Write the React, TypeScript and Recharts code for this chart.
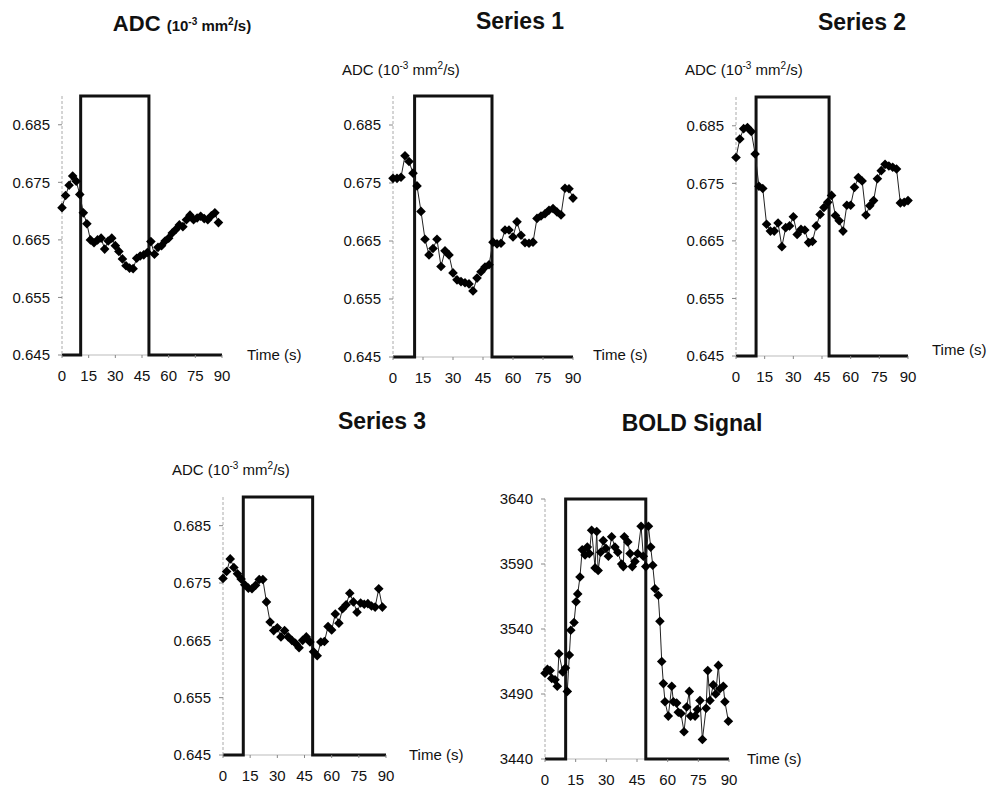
import React from 'react';
import { ComposedChart, Line, XAxis, YAxis } from 'recharts';

// time points (s) for the ADC series
const adcTimes = [0, 2, 4, 6, 8, 10, 12, 14, 16, 18, 20, 22, 24, 26, 28, 30, 32, 34, 36, 38, 40, 42, 44, 46, 48, 50, 52, 54, 56, 58, 60, 62, 64, 66, 68, 70, 72, 74, 76, 78, 80, 82, 84, 86, 88, 90];

const adcMean = [0.6706, 0.6727, 0.6745, 0.6761, 0.6752, 0.6729, 0.6697, 0.6678, 0.665, 0.6645, 0.665, 0.6653, 0.6634, 0.6648, 0.6653, 0.664, 0.663, 0.6617, 0.6605, 0.6601, 0.66, 0.6618, 0.6622, 0.6624, 0.6628, 0.6647, 0.6625, 0.6637, 0.664, 0.6648, 0.6653, 0.6662, 0.6668, 0.6676, 0.6673, 0.6685, 0.6693, 0.6685, 0.6688, 0.6691, 0.6687, 0.6685, 0.6692, 0.6697, 0.668];

const series1 = [0.6758, 0.6758, 0.676, 0.6797, 0.6787, 0.6767, 0.6745, 0.6701, 0.6653, 0.6626, 0.6637, 0.6653, 0.6606, 0.6633, 0.6626, 0.6595, 0.6583, 0.658, 0.6578, 0.6576, 0.6564, 0.6586, 0.6597, 0.6605, 0.6609, 0.6648, 0.6645, 0.6646, 0.6669, 0.6669, 0.6657, 0.6683, 0.666, 0.6647, 0.6646, 0.6648, 0.6689, 0.6693, 0.6697, 0.6703, 0.6706, 0.67, 0.6695, 0.6741, 0.674, 0.6724];

const series2 = [0.6795, 0.6827, 0.6845, 0.6847, 0.684, 0.6801, 0.6745, 0.6741, 0.6679, 0.6667, 0.6667, 0.6681, 0.664, 0.6673, 0.6676, 0.6692, 0.6661, 0.667, 0.6669, 0.6647, 0.6649, 0.6676, 0.6696, 0.6708, 0.6717, 0.6729, 0.6694, 0.6685, 0.6667, 0.6712, 0.6712, 0.6743, 0.676, 0.6754, 0.6695, 0.6711, 0.672, 0.6758, 0.6772, 0.6783, 0.678, 0.6778, 0.6775, 0.6716, 0.6717, 0.672];

const series3 = [0.6758, 0.677, 0.6792, 0.6777, 0.6766, 0.6757, 0.6747, 0.6741, 0.674, 0.6746, 0.6756, 0.6756, 0.6717, 0.6682, 0.6667, 0.6672, 0.6656, 0.6667, 0.6656, 0.665, 0.6645, 0.6637, 0.665, 0.6656, 0.6647, 0.663, 0.6623, 0.6647, 0.6648, 0.6674, 0.6668, 0.6696, 0.668, 0.6705, 0.6712, 0.6732, 0.6717, 0.6699, 0.6715, 0.6713, 0.6714, 0.671, 0.6708, 0.674, 0.6708];

const boldTimes = [0, 1.2, 2.5, 3.3, 4.9, 6, 6.8, 8.7, 10, 10.9, 11.9, 12.6, 14.2, 15.2, 16, 17.1, 18.2, 19.6, 20.7, 21.7, 22.8, 24.5, 25.3, 26, 27.2, 28.5, 29.8, 31, 32.6, 34.2, 35.6, 37.5, 38.3, 38.8, 40.5, 41.6, 42.7, 44, 45.3, 47, 48.1, 49.3, 50.6, 51.7, 52.7, 53.8, 55.4, 56.2, 57.1, 57.9, 58.7, 60.3, 62, 62.8, 64.4, 65.2, 66.5, 68, 69.3, 70.6, 71.2, 73.4, 74.5, 75.8, 77, 78.8, 79.6, 80.7, 82.3, 83.5, 84.8, 85.6, 87.2, 88, 89.7];

const boldSignal = [3506, 3509, 3508, 3502, 3501, 3496, 3521, 3507, 3510, 3492, 3520, 3539, 3545, 3561, 3567, 3580, 3601, 3597, 3603, 3598, 3616, 3587, 3615, 3585, 3599, 3608, 3602, 3596, 3611, 3603, 3599, 3590, 3588, 3611, 3607, 3598, 3588, 3592, 3598, 3619, 3596, 3588, 3619, 3603, 3589, 3571, 3566, 3546, 3515, 3498, 3484, 3473, 3496, 3484, 3483, 3476, 3475, 3461, 3480, 3492, 3473, 3473, 3478, 3485, 3455, 3479, 3508, 3485, 3497, 3490, 3512, 3494, 3496, 3484, 3469];

const timeTicks = [0, 15, 30, 45, 60, 75, 90];
const adcTicks = [0.645, 0.655, 0.665, 0.675, 0.685];
const boldTicks = [3440, 3490, 3540, 3590, 3640];
const adcDomain = [0.645, 0.69];
const boldDomain = [3440, 3640];
// stimulus on/off (s) per panel
const stimOn = [10.5, 10.8, 10.5, 11.2, 10.1];
const stimOff = [48.9, 49.5, 48.7, 49.5, 49.3];

const FONT = '"Liberation Sans", Arial, sans-serif';
const YW = 60;
const TOP = 10;
const RIGHT = 10;
const XH = 40;

const Diamond = (props: any) => {
  const { cx, cy, index } = props;
  if (cx == null || cy == null) return <g key={index} />;
  const r = 4.8;
  return <path key={index} d={`M${cx},${cy - r}L${cx + r},${cy}L${cx},${cy + r}L${cx - r},${cy}Z`} fill="#000" />;
};

type PanelProps = {
  left: number; top: number; w: number; h: number;
  times: number[]; values: number[]; domain: number[]; ticks: number[];
  on: number; off: number; fmt: (v: number) => string;
};

const Panel = ({ left, top, w, h, times, values, domain, ticks, on, off, fmt }: PanelProps) => {
  const rows = values.map((v, i) => ({ t: times[i], v }));
  const base = [{ t: 0, b: domain[0] }, { t: 90, b: domain[0] }];
  const box = [
    { t: 0, b: domain[0] }, { t: on, b: domain[0] }, { t: on, b: domain[1] },
    { t: off, b: domain[1] }, { t: off, b: domain[0] }, { t: 90, b: domain[0] },
  ];
  return (
    <div style={{ position: 'absolute', left: left - YW, top: top - TOP }}>
      <ComposedChart width={w + YW + RIGHT} height={h + TOP + XH} data={rows}
        margin={{ top: TOP, right: RIGHT, left: 0, bottom: 0 }}>
        <XAxis dataKey="t" type="number" domain={[0, 90]} ticks={timeTicks} height={XH}
          axisLine={false} tickLine={{ stroke: '#888' }} tickSize={3} tickMargin={12}
          tick={{ fill: '#111', fontSize: 15, fontFamily: FONT }} interval={0} />
        <YAxis type="number" domain={domain} ticks={ticks} width={YW} tickFormatter={fmt}
          axisLine={{ stroke: '#aaa', strokeDasharray: '3 2' }} tickLine={{ stroke: '#888' }} tickSize={4} tickMargin={8}
          tick={{ fill: '#111', fontSize: 15, fontFamily: FONT }} interval={0} />
        <Line data={base} dataKey="b" type="linear" stroke="#bbb" strokeWidth={1} dot={false} activeDot={false} isAnimationActive={false} />
        <Line data={box} dataKey="b" type="linear" stroke="#111" strokeWidth={3} dot={false} activeDot={false} isAnimationActive={false} />
        <Line dataKey="v" type="linear" stroke="#222" strokeWidth={1} dot={Diamond} activeDot={false} isAnimationActive={false} />
      </ComposedChart>
    </div>
  );
};

const txt = (extra: React.CSSProperties): React.CSSProperties => ({
  position: 'absolute', fontFamily: FONT, color: '#111', lineHeight: 1, whiteSpace: 'nowrap', ...extra,
});

const Units = ({ left, top }: { left: number; top: number }) => (
  <div style={txt({ left, top, fontSize: 15 })}>
    ADC (10<sup style={{ fontSize: 10 }}>-3</sup> mm<sup style={{ fontSize: 10 }}>2</sup>/s)
  </div>
);

const fmtAdc = (v: number) => v.toFixed(3);
const fmtBold = (v: number) => String(Math.round(v));

export default function App() {
  return (
    <div style={{ position: 'absolute', left: 0, top: 0, width: 994, height: 788, background: '#fff', overflow: 'hidden' }}>
      <div style={txt({ left: 182, top: 13, fontSize: 22, fontWeight: 'bold', transform: 'translateX(-50%)' })}>
        ADC <span style={{ fontSize: 15 }}>(10<sup style={{ fontSize: 10 }}>-3</sup> mm<sup style={{ fontSize: 10 }}>2</sup>/s)</span>
      </div>
      <div style={txt({ left: 520, top: 10, fontSize: 23, fontWeight: 'bold', transform: 'translateX(-50%)' })}>Series 1</div>
      <div style={txt({ left: 862, top: 11, fontSize: 23, fontWeight: 'bold', transform: 'translateX(-50%)' })}>Series 2</div>
      <div style={txt({ left: 382, top: 410, fontSize: 23, fontWeight: 'bold', transform: 'translateX(-50%)' })}>Series 3</div>
      <div style={txt({ left: 692, top: 412, fontSize: 23, fontWeight: 'bold', transform: 'translateX(-50%)' })}>BOLD Signal</div>

      <Units left={342} top={61} />
      <Units left={685} top={61} />
      <Units left={172} top={461} />

      <Panel left={62} top={96} w={160} h={259} times={adcTimes} values={adcMean} domain={adcDomain} ticks={adcTicks} on={stimOn[0]} off={stimOff[0]} fmt={fmtAdc} />
      <Panel left={393} top={96} w={180} h={261} times={adcTimes} values={series1} domain={adcDomain} ticks={adcTicks} on={stimOn[1]} off={stimOff[1]} fmt={fmtAdc} />
      <Panel left={736} top={97} w={172} h={259} times={adcTimes} values={series2} domain={adcDomain} ticks={adcTicks} on={stimOn[2]} off={stimOff[2]} fmt={fmtAdc} />
      <Panel left={223} top={497} w={163} h={258} times={adcTimes} values={series3} domain={adcDomain} ticks={adcTicks} on={stimOn[3]} off={stimOff[3]} fmt={fmtAdc} />
      <Panel left={545} top={499} w={184} h={260} times={boldTimes} values={boldSignal} domain={boldDomain} ticks={boldTicks} on={stimOn[4]} off={stimOff[4]} fmt={fmtBold} />

      <div style={txt({ left: 247, top: 347, fontSize: 15 })}>Time (s)</div>
      <div style={txt({ left: 593, top: 347, fontSize: 15 })}>Time (s)</div>
      <div style={txt({ left: 932, top: 342, fontSize: 15 })}>Time (s)</div>
      <div style={txt({ left: 409, top: 747, fontSize: 15 })}>Time (s)</div>
      <div style={txt({ left: 747, top: 751, fontSize: 15 })}>Time (s)</div>
    </div>
  );
}
